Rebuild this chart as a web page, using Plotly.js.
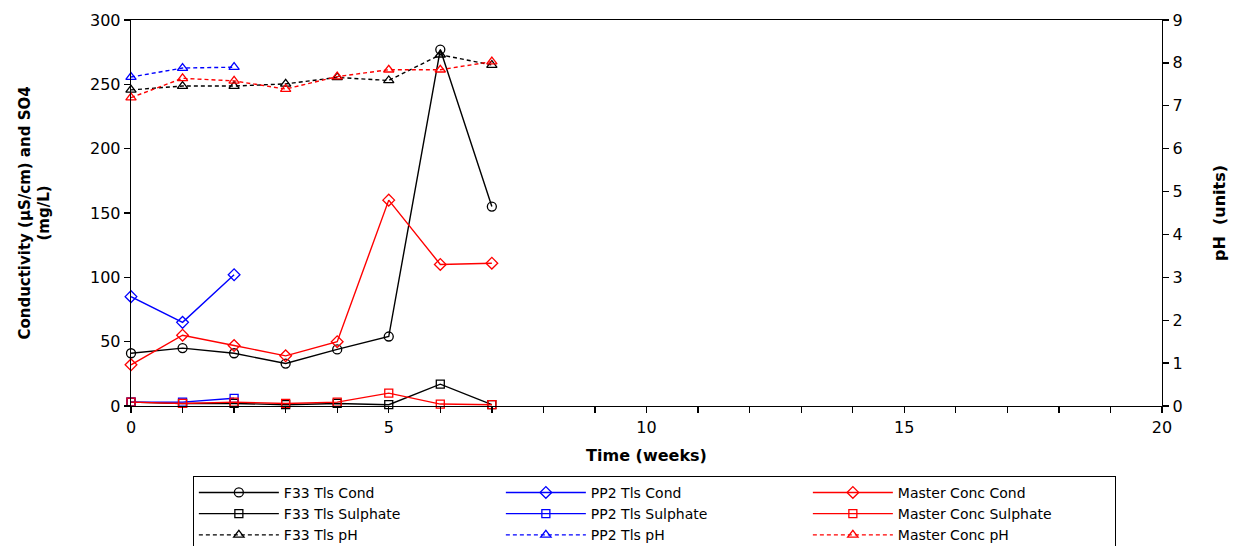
<!DOCTYPE html>
<html>
<head>
<meta charset="utf-8">
<script src="https://cdn.plot.ly/plotly-3.0.1.min.js"></script>
<style>html,body{margin:0;padding:0;background:#fff;}#chart{width:1233px;height:546px;}</style>
</head>
<body>
<div id="chart"></div>
<script>
const weeks = [0, 1, 2, 3, 4, 5, 6, 7];
const weeksPP2 = [0, 1, 2];

const f33Cond = [41, 45, 41, 33, 44, 54, 277, 155];
const pp2Cond = [85, 65, 102];
const masterCond = [32, 55, 47, 39, 50, 160, 110, 111];

const f33Sulph = [3, 2, 2, 1, 2, 1, 17, 1];
const pp2Sulph = [3, 3, 6];
const masterSulph = [3, 2, 3, 2, 3, 10, 1.5, 1];

const f33PH = [7.37, 7.46, 7.46, 7.51, 7.66, 7.59, 8.19, 7.95];
const pp2PH = [7.67, 7.88, 7.9];
const masterPH = [7.19, 7.64, 7.58, 7.39, 7.68, 7.84, 7.84, 8.03];

const xTickVals = [0,1,2,3,4,5,6,7,8,9,10,11,12,13,14,15,16,17,18,19,20];
const xTickText = xTickVals.map(v => (v % 5 === 0 ? String(v) : ''));

const BLACK = '#000000', BLUE = '#0000ff', RED = '#ff0000';

function tr(name, x, y, color, symbol, dash, axis) {
  return {
    type: 'scatter', mode: 'lines+markers', name: name, x: x, y: y,
    yaxis: axis || 'y', cliponaxis: false,
    line: {color: color, width: 1.4, dash: dash || 'solid'},
    marker: {symbol: symbol, size: symbol === 'square-open' ? 8 : 9, color: color, line: {color: color, width: 1.3}}
  };
}

const DASH = '4px,3px';
const data = [
  tr('F33 Tls Cond', weeks, f33Cond, BLACK, 'circle-open'),
  tr('PP2 Tls Cond', weeksPP2, pp2Cond, BLUE, 'diamond-open'),
  tr('Master Conc Cond', weeks, masterCond, RED, 'diamond-open'),
  tr('F33 Tls Sulphate', weeks, f33Sulph, BLACK, 'square-open'),
  tr('PP2 Tls Sulphate', weeksPP2, pp2Sulph, BLUE, 'square-open'),
  tr('Master Conc Sulphate', weeks, masterSulph, RED, 'square-open'),
  tr('F33 Tls pH', weeks, f33PH, BLACK, 'triangle-up-open', DASH, 'y2'),
  tr('PP2 Tls pH', weeksPP2, pp2PH, BLUE, 'triangle-up-open', DASH, 'y2'),
  tr('Master Conc pH', weeks, masterPH, RED, 'triangle-up-open', DASH, 'y2')
];

const FONT = 'DejaVu Sans, sans-serif';
const layout = {
  width: 1233, height: 546,
  margin: {l: 131, r: 71, t: 20, b: 140, autoexpand: false},
  paper_bgcolor: '#fff', plot_bgcolor: '#fff',
  font: {family: FONT, size: 16, color: '#000'},
  showlegend: true,
  xaxis: {
    range: [0, 20], tickvals: xTickVals, ticktext: xTickText,
    ticks: 'outside', ticklen: 6, tickwidth: 1.3, tickcolor: '#000',
    showline: true, linecolor: '#000', linewidth: 1.3, mirror: true,
    showgrid: false, zeroline: false,
    tickfont: {size: 16},
    title: {text: '<b>Time (weeks)</b>', font: {size: 16}, standoff: 14}
  },
  yaxis: {
    range: [0, 300], dtick: 50,
    ticks: 'outside', ticklen: 6, tickwidth: 1.3, tickcolor: '#000',
    showline: true, linecolor: '#000', linewidth: 1.3,
    showgrid: false, zeroline: false,
    tickfont: {size: 16},
    title: {text: '<b>Conductivity (µS/cm) and SO4<br>(mg/L)</b>', font: {size: 15}, standoff: 36}
  },
  yaxis2: {
    range: [0, 9], dtick: 1, overlaying: 'y', side: 'right',
    ticks: 'outside', ticklen: 6, tickwidth: 1.3, tickcolor: '#000',
    showline: true, linecolor: '#000', linewidth: 1.3,
    showgrid: false, zeroline: false,
    tickfont: {size: 16},
    title: {text: '<b>pH  (units)</b>', font: {size: 16}, standoff: 32}
  },
  legend: {
    orientation: 'h', x: 0.06, xanchor: 'left', y: -0.181, yanchor: 'top',
    entrywidth: 212, entrywidthmode: 'pixels',
    bordercolor: '#000', borderwidth: 1, bgcolor: '#fff',
    font: {family: FONT, size: 14, color: '#000'},
    itemwidth: 80, tracegroupgap: 0
  }
};

Plotly.newPlot('chart', data, layout, {displayModeBar: false, staticPlot: true});
</script>
</body>
</html>
